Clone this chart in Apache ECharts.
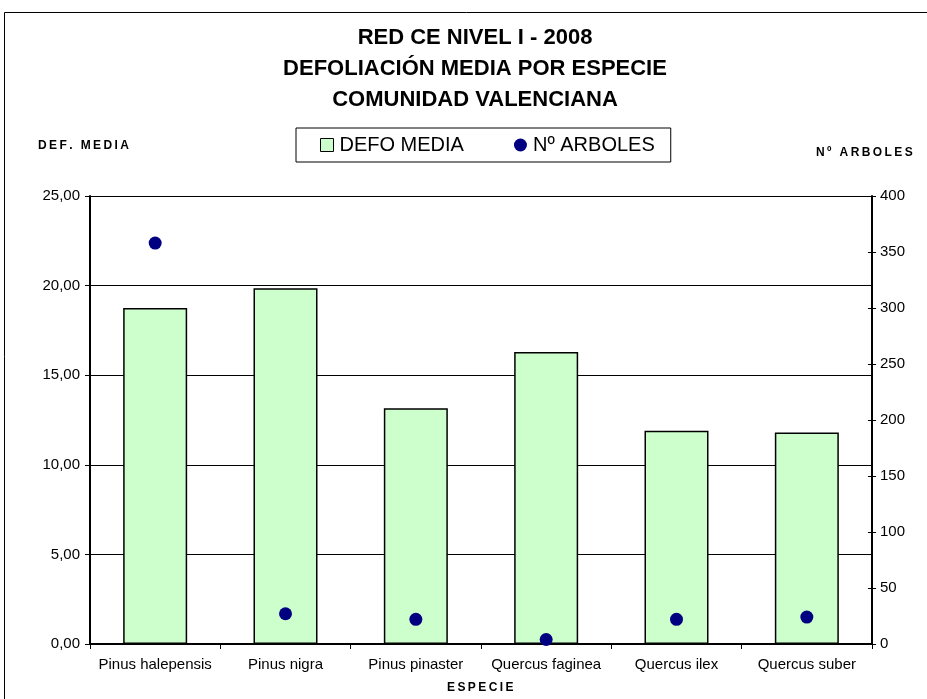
<!DOCTYPE html>
<html>
<head>
<meta charset="utf-8">
<script src="https://cdn.jsdelivr.net/npm/echarts@6/dist/echarts.min.js"></script>
<style>
  html, body { margin: 0; padding: 0; background: #fff; }
  #chart { width: 927px; height: 699px; }
</style>
</head>
<body>
<div id="chart"></div>
<script>
// datos
var especies = ['Pinus halepensis', 'Pinus nigra', 'Pinus pinaster', 'Quercus faginea', 'Quercus ilex', 'Quercus suber'];
var defoMedia = [18.75, 19.85, 13.15, 16.3, 11.9, 11.8];
var numArboles = [358, 27, 22, 4, 22, 24];
var titulo = ['RED CE NIVEL I - 2008', 'DEFOLIACIÓN MEDIA POR ESPECIE', 'COMUNIDAD VALENCIANA'];

var font = 'Arial, "Liberation Sans", sans-serif';
var sp = '\u2009';
function espaciar(s) { return s.split('').join(sp); }

var myChart = echarts.init(document.getElementById('chart'));

var option = {
    animation: false,
    textStyle: { fontFamily: font, color: '#000' },
    title: {
        text: titulo.join('\n'),
        left: 470,
        textAlign: 'center',
        top: 17,
        textStyle: { fontSize: 22, fontWeight: 'bold', lineHeight: 31, color: '#000' }
    },
    legend: {
        left: 296,
        top: 128,
        padding: [7, 16, 7, 24],
        itemGap: 50,
        borderColor: '#000',
        borderWidth: 1,
        itemWidth: 13,
        itemHeight: 13,
        textStyle: { fontSize: 20, color: '#000', padding: [0, 0, 0, 1] },
        data: [
            { name: 'DEFO MEDIA', icon: 'rect', itemStyle: { color: '#ccffcc', borderColor: '#000', borderWidth: 1 } },
            { name: 'Nº ARBOLES', icon: 'circle', itemStyle: { color: '#000080', opacity: 1 } }
        ]
    },
    grid: { left: 90, right: 55, top: 196, bottom: 55 },
    xAxis: {
        type: 'category',
        data: especies,
        axisLine: { lineStyle: { color: '#000', width: 2 } },
        axisTick: { show: true, interval: 0, length: 5, lineStyle: { color: '#000' } },
        axisLabel: { interval: 0, fontSize: 15, color: '#000', margin: 13 }
    },
    yAxis: [
        {
            type: 'value',
            min: 0, max: 25, interval: 5,
            axisLine: { show: true, lineStyle: { color: '#000', width: 2 } },
            axisTick: { show: true, length: 5, lineStyle: { color: '#000' } },
            axisLabel: {
                fontSize: 15, color: '#000', margin: 10,
                formatter: function (v) { return v.toFixed(2).replace('.', ','); }
            },
            splitLine: { show: true, lineStyle: { color: '#000', width: 1 } }
        },
        {
            type: 'value',
            min: 0, max: 400, interval: 50,
            position: 'right',
            axisLine: { show: true, lineStyle: { color: '#000', width: 2 } },
            axisTick: { show: true, length: 4, lineStyle: { color: '#000' } },
            axisLabel: { fontSize: 15, color: '#000', margin: 8 },
            splitLine: { show: false }
        },
        {
            // marcas hacia dentro del eje derecho
            type: 'value',
            min: 0, max: 400, interval: 50,
            position: 'right',
            axisLine: { show: false },
            axisTick: { show: true, inside: true, length: 4, lineStyle: { color: '#000' } },
            axisLabel: { show: false },
            splitLine: { show: false }
        }
    ],
    series: [
        {
            name: 'DEFO MEDIA',
            type: 'bar',
            yAxisIndex: 0,
            barWidth: 64,
            itemStyle: { color: '#ccffcc', borderColor: '#000', borderWidth: 1.5 },
            data: defoMedia
        },
        {
            name: 'Nº ARBOLES',
            type: 'scatter',
            yAxisIndex: 1,
            symbol: 'circle',
            symbolSize: 13,
            itemStyle: { color: '#000080', opacity: 1 },
            data: numArboles
        }
    ],
    graphic: [
        {
            type: 'rect',
            shape: { x: 4.5, y: 12.5, width: 960, height: 720 },
            style: { fill: 'none', stroke: '#000', lineWidth: 1 },
            silent: true
        },
        {
            type: 'text', left: 38, top: 140,
            style: { text: espaciar('DEF. MEDIA'), font: 'bold 12px ' + font, fill: '#000' }
        },
        {
            type: 'text', left: 816, top: 147,
            style: { text: espaciar('Nº ARBOLES'), font: 'bold 12px ' + font, fill: '#000' }
        },
        {
            type: 'text', left: 447, top: 682,
            style: { text: espaciar('ESPECIE'), font: 'bold 12px ' + font, fill: '#000' }
        }
    ]
};

myChart.setOption(option, true);
</script>
</body>
</html>
